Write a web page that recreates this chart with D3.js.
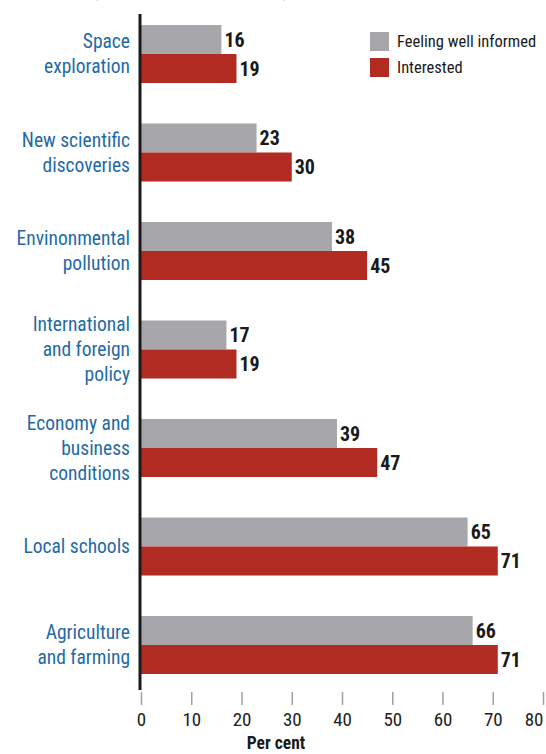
<!DOCTYPE html>
<html>
<head>
<meta charset="utf-8">
<script src="https://cdn.jsdelivr.net/npm/d3@7"></script>
<style>
  body { margin: 0; background: #fff; }
  svg { display: block; }
  text { font-family: "Liberation Sans Narrow", "Roboto Condensed", "Liberation Sans", sans-serif; }
</style>
</head>
<body>
<svg id="chart" width="546" height="754"></svg>
<script>
// Public interest and self-rated knowledge by topic (per cent)
const categories = [
  ["Space", "exploration"],
  ["New scientific", "discoveries"],
  ["Envinonmental", "pollution"],
  ["International", "and foreign", "policy"],
  ["Economy and", "business", "conditions"],
  ["Local schools"],
  ["Agriculture", "and farming"]
];
const wellInformed = [16, 23, 38, 17, 39, 65, 66];
const interested = [19, 30, 45, 19, 47, 71, 71];
const seriesNames = ["Feeling well informed", "Interested"];
const tickValues = [0, 10, 20, 30, 40, 50, 60, 70, 80];

const colors = ["#a7a7ab", "#b22b22"];
const labelBlue = "#1f6aa6";

const svg = d3.select("#chart");

const x = d3.scaleLinear().domain([0, 80]).range([141, 543]);
const y = d3.scaleBand()
  .domain(d3.range(categories.length))
  .range([25, 674])
  .paddingInner(0.411)
  .paddingOuter(0);
const sub = d3.scaleBand().domain([0, 1]).range([0, y.bandwidth()]);

// Title line running above the visible area
svg.append("text")
  .attr("x", 93).attr("y", -3)
  .attr("fill", "#c0392b")
  .attr("font-size", 17)
  .text("(per cent of adult population)");

const rows = categories.map((c, i) => ({ i, label: c, vals: [wellInformed[i], interested[i]] }));

const g = svg.append("g");
const groups = g.selectAll("g.row").data(rows).join("g")
  .attr("class", "row")
  .attr("transform", d => `translate(0,${y(d.i)})`);

groups.selectAll("rect").data(d => d.vals.map((v, k) => ({ v, k }))).join("rect")
  .attr("x", x(0))
  .attr("y", d => sub(d.k))
  .attr("width", d => x(d.v) - x(0))
  .attr("height", sub.bandwidth())
  .attr("fill", d => colors[d.k]);

groups.selectAll("text.val").data(d => d.vals.map((v, k) => ({ v, k }))).join("text")
  .attr("class", "val")
  .attr("x", d => x(d.v) + 3)
  .attr("y", d => sub(d.k) + sub.bandwidth() / 2)
  .attr("dy", "0.36em")
  .attr("font-size", 20)
  .attr("font-weight", "bold")
  .attr("fill", "#1a1a1a")
  .text(d => d.v);

// Category labels
const lineH = 25;
groups.append("text")
  .attr("text-anchor", "end")
  .attr("font-size", 19.5)
  .attr("fill", labelBlue)
  .each(function (d) {
    const n = d.label.length;
    const t = d3.select(this);
    d.label.forEach((line, j) => {
      t.append("tspan")
        .attr("x", 130)
        .attr("y", y.bandwidth() / 2 + (j - (n - 1) / 2) * lineH)
        .attr("dy", "0.35em")
        .text(line);
    });
  });

// Vertical baseline
svg.append("line")
  .attr("x1", x(0) - 1).attr("x2", x(0) - 1)
  .attr("y1", 14).attr("y2", 690)
  .attr("stroke", "#1a1a1a").attr("stroke-width", 3);

// Bottom axis
const axis = d3.axisBottom(x).tickValues(tickValues).tickSize(13).tickPadding(8);
const ax = svg.append("g").attr("transform", "translate(0,692)").call(axis);
ax.select(".domain").remove();
ax.selectAll(".tick line").attr("stroke", "#a0a0a0").attr("stroke-width", 1.5);
ax.selectAll(".tick text")
  .attr("font-size", 19)
  .attr("fill", "#222")
  .attr("font-family", "'Liberation Sans Narrow', 'Liberation Sans', sans-serif")
  .filter(d => d === 80)
  .attr("text-anchor", "end")
  .attr("dx", 0);

svg.append("text")
  .attr("x", 276).attr("y", 749)
  .attr("text-anchor", "middle")
  .attr("font-size", 17.5)
  .attr("font-weight", "bold")
  .attr("fill", "#1a1a1a")
  .text("Per cent");

// Legend
const legend = svg.append("g").attr("transform", "translate(370,32)");
seriesNames.forEach((name, k) => {
  legend.append("rect")
    .attr("x", 0).attr("y", k * 26)
    .attr("width", 19).attr("height", 19)
    .attr("fill", colors[k]);
  legend.append("text")
    .attr("x", 27).attr("y", k * 26 + 9.5)
    .attr("dy", "0.35em")
    .attr("font-size", 16.5)
    .attr("fill", "#1a1a1a")
    .text(name);
});
</script>
</body>
</html>
